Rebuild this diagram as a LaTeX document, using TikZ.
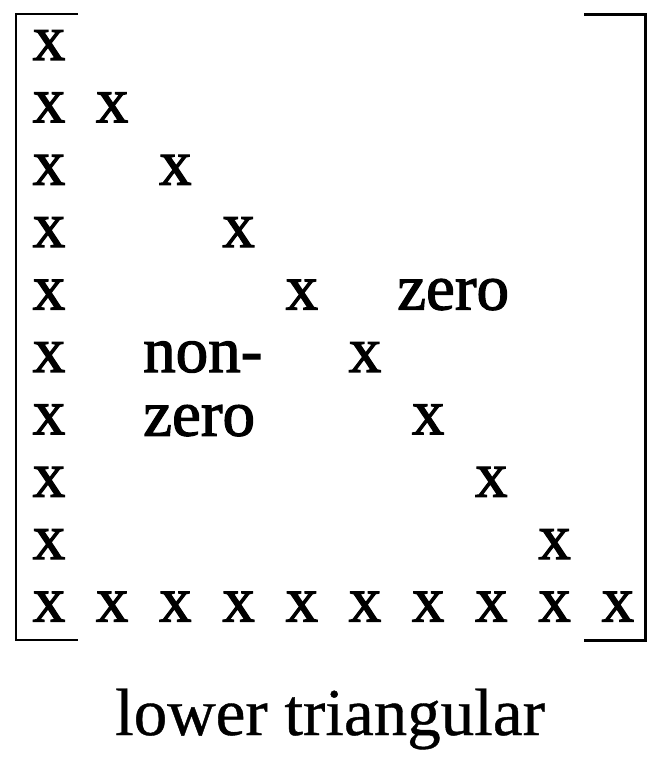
\documentclass[tikz,border=0pt]{standalone}
\usepackage{fontspec}
\setmainfont{Liberation Serif}
\newfontfamily\scanfont[FakeBold=1.8]{Liberation Serif}
\newfontfamily\capfont[FakeBold=0.6]{Liberation Serif}
\usetikzlibrary{calc,positioning}
\begin{document}
\begin{tikzpicture}[x=1pt,y=-1pt]
  \tikzset{
    entry/.style={inner sep=0pt,font=\scanfont\fontsize{65}{65}\selectfont},
    caption/.style={inner sep=0pt,anchor=base,font=\capfont\fontsize{67}{67}\selectfont},
    bracket/.style={line width=2pt,line join=miter},
  }
\useasboundingbox (0,0) rectangle (661,763);

\coordinate (tl) at (16,14);
\coordinate (bl) at (16,640);
\coordinate (tr) at (645,14);
\coordinate (br) at (645,640);

%\draw[red] (tl) rectangle (br);

\draw[bracket] ($(tl)+(62,0)$)--(tl)--(bl)--($(bl)+(62,0)$);
\draw[bracket,line width=3pt] ($(tr)+(-61,0)$)--(tr)--(br)--($(br)+(-61,0)$);

% diagonal
\foreach \i in {1,...,10} {
  \node[entry] (d\i) at ({49+63.2*(\i-1)},{45+62.4*(\i-1)}) {x};
}
% first column
\foreach \i in {2,...,10} {
  \node[entry] (c\i) at (49,{45+62.4*(\i-1)}) {x};
}
% last row
\foreach \i in {2,...,9} {
  \node[entry] (r\i) at ({49+63.2*(\i-1)},606.6) {x};
}

\node[entry,anchor=west] (zeroup) at (397,294.6) {zero};
\node[entry,anchor=west] (nonzero) at (143,357) {non-};
\node[entry,anchor=west,below=0pt of nonzero.south west,anchor=north west,yshift=-32pt] (zerolow) {zero};

\node[caption] (cap) at (330,735) {lower triangular};

\end{tikzpicture}
\end{document}
